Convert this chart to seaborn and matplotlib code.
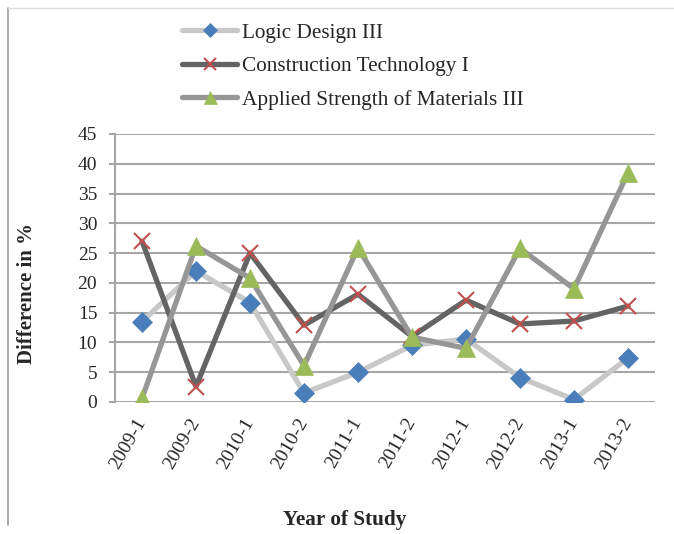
import matplotlib
matplotlib.use("Agg")
import matplotlib.pyplot as plt
import seaborn as sns
import pandas as pd
from matplotlib.lines import Line2D

categories = ["2009-1", "2009-2", "2010-1", "2010-2", "2011-1",
              "2011-2", "2012-1", "2012-2", "2013-1", "2013-2"]
logic_design = [13.5, 22, 16.7, 1.5, 5, 9.5, 10.6, 4.1, 0.4, 7.4]
construction = [27, 2.6, 25, 12.9, 18.1, 11, 17.1, 13.1, 13.6, 16.1]
applied_strength = [0.6, 26.2, 20.8, 6.1, 25.9, 10.9, 9, 25.8, 19, 38.5]
y_ticks = [0, 5, 10, 15, 20, 25, 30, 35, 40, 45]

series = [
    ("Logic Design III", logic_design, "#c8c8c8", "D", "#4a7ebb", 10),
    ("Construction Technology I", construction, "#646464", "x", "#c0504d", 12),
    ("Applied Strength of Materials III", applied_strength, "#969696", "^", "#9bbb59", 13),
]

sns.set_style("white")
plt.rcParams["font.family"] = ["Liberation Serif", "DejaVu Serif"]

fig = plt.figure(figsize=(6.74, 5.34), dpi=100)
ax = fig.add_axes([115/674, 1-402/534, 540/674, 268/534])

handles = []
xs = list(range(len(categories)))
for name, vals, lc, mk, mc, ms in series:
    df = pd.DataFrame({"x": xs, "y": vals})
    sns.lineplot(data=df, x="x", y="y", ax=ax, color=lc, linewidth=3.8,
                 marker=mk, markersize=ms, markerfacecolor=mc, markeredgecolor=mc,
                 markeredgewidth=1.5 if mk == "x" else 0.5, sort=False, zorder=3)
    handles.append(Line2D([0], [0], color=lc, linewidth=3.8, marker=mk,
                          markersize=ms*0.72, markerfacecolor=mc, markeredgecolor=mc,
                          markeredgewidth=1.5 if mk == "x" else 0.5, label=name))

ax.set_xlim(-0.5, len(categories) - 0.5)
ax.set_ylim(0, 45)
ax.set_yticks(y_ticks)
ax.set_yticklabels([str(t) for t in y_ticks], fontsize=14)
ax.set_xticks(xs)
ax.set_xticklabels(categories, rotation=60, ha="right", va="center",
                   rotation_mode="anchor", fontsize=14)
ax.yaxis.grid(True, color="#a6a6a6", linewidth=1.5)
ax.set_axisbelow(True)
for s in ["top", "right", "bottom"]:
    ax.spines[s].set_visible(False)
ax.spines["left"].set_color("#a6a6a6")
ax.spines["left"].set_linewidth(1.5)
ax.tick_params(axis="y", which="both", left=True, length=4.3, color="#a6a6a6", width=1.5, pad=8.5)
ax.tick_params(axis="x", which="both", bottom=False, pad=9)
ax.set_xlabel("")
ax.set_ylabel("")

fig.text(27/674, 1-293/534, "Difference in %", rotation=90, ha="center", va="center",
         fontsize=15, fontweight="bold")
fig.text(345/674, 1-520/534, "Year of Study", ha="center", va="center",
         fontsize=15.3, fontweight="bold")

fig.legend(handles=handles, loc="upper left", bbox_to_anchor=(182/674, 1-23/534),
           frameon=False, fontsize=15.3, handlelength=2.6, handletextpad=0.23,
           labelspacing=0.64, borderpad=0, borderaxespad=0)

fig.add_artist(Line2D([8/674, 8/674], [1-8/534, 1-525/534], color="#a0a0a0", linewidth=1.2,
                      transform=fig.transFigure))
fig.add_artist(Line2D([8/674, 1.0], [1-8/534, 1-8/534], color="#dddddd", linewidth=1.0,
                      transform=fig.transFigure))

fig.savefig("out.png", dpi=100)
